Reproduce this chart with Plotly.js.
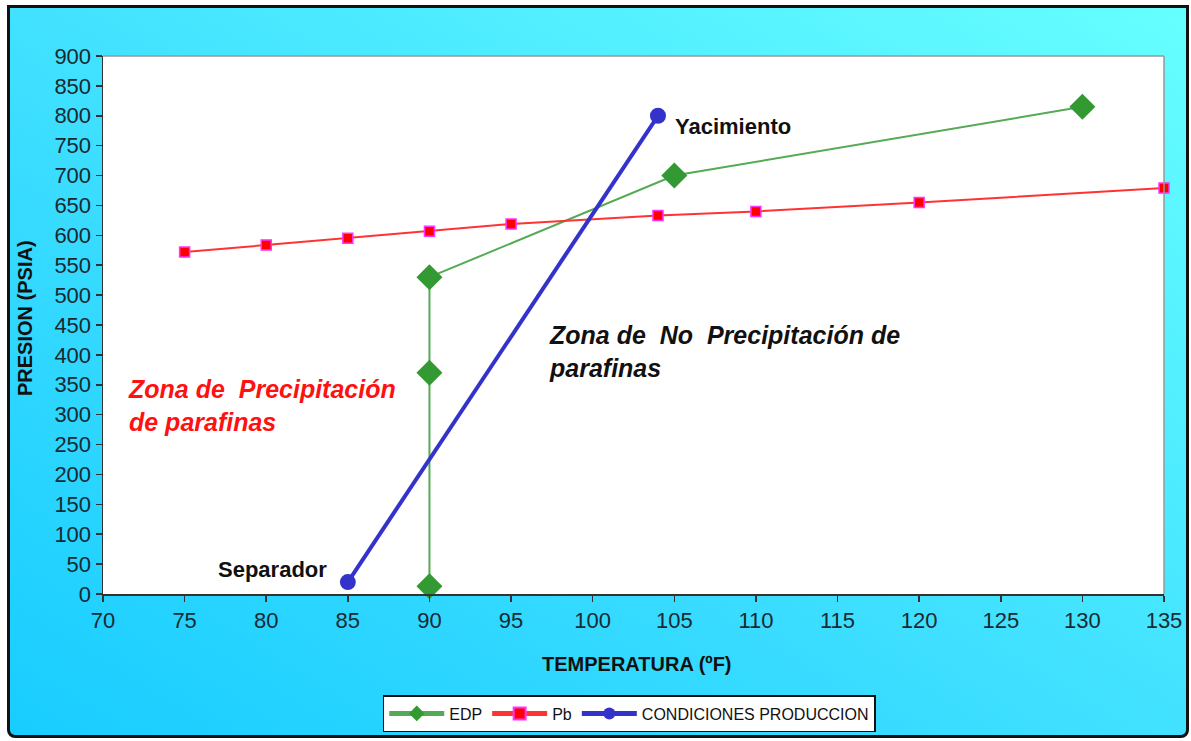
<!DOCTYPE html>
<html>
<head>
<meta charset="utf-8">
<script src="https://cdn.plot.ly/plotly-3.0.1.min.js"></script>
<style>
  html, body { margin: 0; padding: 0; background: #ffffff; }
  #frame {
    position: absolute; left: 7px; top: 5px; width: 1176px; height: 727px;
    border: 3px solid #111; border-radius: 0 0 8px 8px;
    background: linear-gradient(to top right, #18cdff 0%, #3adcff 40%, #66ffff 100%);
  }
  #chart { position: absolute; left: 0; top: 0; width: 1191px; height: 741px; }
</style>
</head>
<body>
<div id="frame"></div>
<div id="chart"></div>
<script>
// EDP
const edpT = [90, 90, 90, 105, 130];
const edpP = [13, 370, 530, 700, 815];
// Pb
const pbT = [75, 80, 85, 90, 95, 104, 110, 120, 135];
const pbP = [572, 584, 595, 607, 619, 633, 640, 655, 679];
// CONDICIONES PRODUCCION
const condT = [85, 104];
const condP = [20, 800];
const condLabels = ['Separador', 'Yacimiento'];

const xTicks = [70, 75, 80, 85, 90, 95, 100, 105, 110, 115, 120, 125, 130, 135];
const yTicks = [0, 50, 100, 150, 200, 250, 300, 350, 400, 450, 500, 550, 600, 650, 700, 750, 800, 850, 900];

const xTitle = 'TEMPERATURA (ºF)';
const yTitle = 'PRESION (PSIA)';

const traces = [
  {
    x: edpT, y: edpP, name: 'EDP', type: 'scatter', mode: 'lines+markers', cliponaxis: false,
    line: {color: '#55aa55', width: 2},
    marker: {symbol: 'diamond', size: 20, color: '#339933'}
  },
  {
    x: pbT, y: pbP, name: 'Pb', type: 'scatter', mode: 'lines+markers', cliponaxis: false,
    line: {color: '#ff3333', width: 2},
    marker: {symbol: 'square', size: 10, color: '#ff0000', line: {color: '#ff33ff', width: 1.5}}
  },
  {
    x: condT, y: condP, name: 'CONDICIONES PRODUCCION', type: 'scatter', mode: 'lines+markers', cliponaxis: false,
    line: {color: '#3333cc', width: 4},
    marker: {symbol: 'circle', size: 16, color: '#3333cc'}
  }
];

const layout = {
  width: 1191, height: 741,
  paper_bgcolor: 'rgba(0,0,0,0)',
  plot_bgcolor: '#ffffff',
  margin: {l: 103, r: 27, t: 56, b: 147, autoexpand: false},
  font: {family: 'Liberation Sans, Arial, sans-serif', color: '#111'},
  showlegend: true,
  legend: {
    orientation: 'h', xref: 'paper', x: 0.496, xanchor: 'center',
    yref: 'container', y: 1 - 695 / 741, yanchor: 'top',
    bgcolor: '#ffffff', bordercolor: '#111', borderwidth: 1.5,
    font: {size: 16, color: '#111'}, itemwidth: 55, itemsizing: 'constant'
  },
  xaxis: {
    range: [70, 135], tickvals: xTicks, ticktext: xTicks.map(String),
    showgrid: false, zeroline: false, automargin: false,
    showline: true, linecolor: '#333', linewidth: 1.5,
    ticks: 'outside', ticklen: 6, tickcolor: '#333', tickwidth: 1.5,
    tickfont: {size: 22, color: '#1a2a30'}
  },
  yaxis: {
    range: [0, 900], tickvals: yTicks, ticktext: yTicks.map(String),
    showgrid: false, zeroline: false, automargin: false,
    showline: true, linecolor: '#333', linewidth: 1.5,
    ticks: 'outside', ticklen: 6, tickcolor: '#333', tickwidth: 1.5,
    tickfont: {size: 22, color: '#1a2a30'}
  },
  shapes: [
    {type: 'line', xref: 'paper', yref: 'paper', x0: 0, x1: 1, y0: 1, y1: 1, line: {color: '#999', width: 1.5}},
    {type: 'line', xref: 'paper', yref: 'paper', x0: 1, x1: 1, y0: 0, y1: 1, line: {color: '#999', width: 1.5}}
  ],
  annotations: [
    {x: 0.503, y: -0.130, xref: 'paper', yref: 'paper', text: '<b>' + xTitle + '</b>', showarrow: false,
     xanchor: 'center', yanchor: 'middle', font: {size: 20, color: '#111'}},
    {x: -0.0735, y: 0.513, xref: 'paper', yref: 'paper', text: '<b>' + yTitle + '</b>', showarrow: false,
     textangle: -90, xanchor: 'center', yanchor: 'middle', font: {size: 20, color: '#111'}},
    {x: condT[1], y: condP[1], xref: 'x', yref: 'y', text: '<b>' + condLabels[1] + '</b>', showarrow: false,
     xanchor: 'left', yanchor: 'middle', xshift: 15, yshift: -11, font: {size: 22, color: '#111'}},
    {x: condT[0], y: condP[0], xref: 'x', yref: 'y', text: '<b>' + condLabels[0] + '</b>', showarrow: false,
     xanchor: 'right', yanchor: 'middle', xshift: -19, yshift: 13, font: {size: 22, color: '#111'}},
    {x: 97.2, y: 405, xref: 'x', yref: 'y', text: '<b><i>Zona de  No  Precipitación de<br>parafinas</i></b>',
     showarrow: false, xanchor: 'left', yanchor: 'middle', align: 'left', font: {size: 25, color: '#111'}},
    {x: 71.4, y: 316, xref: 'x', yref: 'y', text: '<b><i>Zona de  Precipitación<br>de parafinas</i></b>',
     showarrow: false, xanchor: 'left', yanchor: 'middle', align: 'left', font: {size: 25, color: '#ff1111'}}
  ]
};

Plotly.newPlot('chart', traces, layout, {displayModeBar: false, staticPlot: true});
</script>
</body>
</html>
